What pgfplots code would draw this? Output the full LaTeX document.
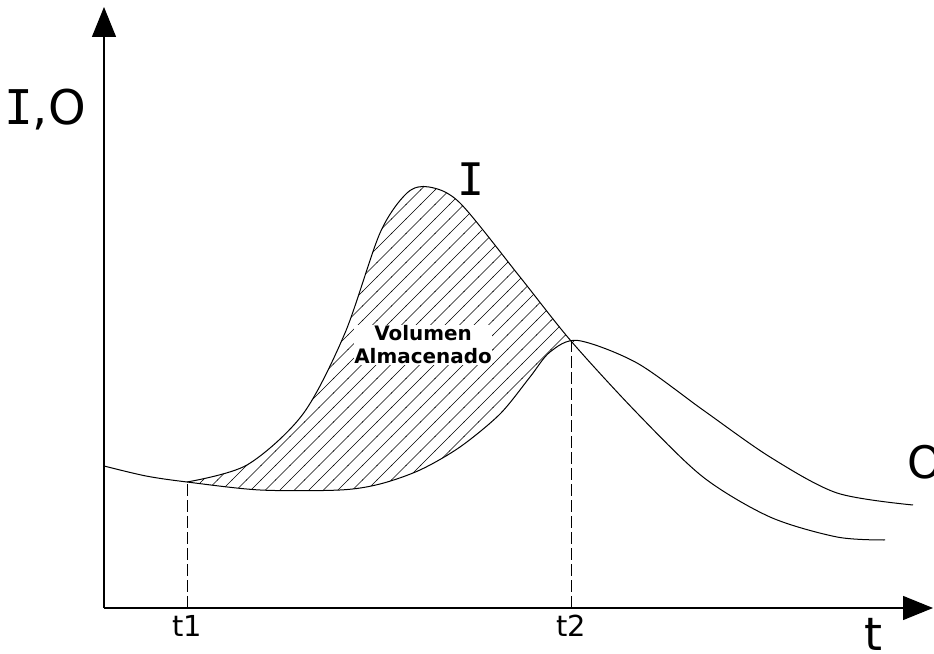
\documentclass[border=0pt]{standalone}
\usepackage{fontspec}
\setmainfont{DejaVu Sans}
\newfontfamily\slabI{DejaVu Sans Mono}
\usepackage{pgfplots}
\pgfplotsset{compat=1.18}
\usepgfplotslibrary{fillbetween}
\usetikzlibrary{arrows.meta,patterns}

% wide 45-degree hatching for the storage area
\pgfdeclarepatternformonly{widehatch}{\pgfpoint{-1bp}{-1bp}}{\pgfpoint{15.5bp}{15.5bp}}{\pgfpoint{14.5bp}{14.5bp}}{%
  \pgfsetlinewidth{0.7bp}%
  \pgfpathmoveto{\pgfpoint{-0.5bp}{-0.5bp}}%
  \pgfpathlineto{\pgfpoint{15bp}{15bp}}%
  \pgfusepath{stroke}}

% outflow hydrograph O (includes the common base flow before t1)
\pgfplotstableread{
x y
0 142
42 132
83 126
156 118
236 118
276 124
316 138
356 161
396 194
426 231
446 256
474 267.5
533 245
599 198
666 151
733 115
809 103
}\outflow

% inflow hydrograph I
\pgfplotstableread{
x y
83 126
143 143
199 194
241 275
276 375
303 415
325 421
356 405
416 331
467 267
533 195
599 131
666 91
733 71
781 68
}\inflow

\begin{document}
\begin{tikzpicture}
\begin{axis}[
  at={(104bp,46bp)}, anchor=south west,
  scale only axis, width=829bp, height=601bp,
  xmin=0, xmax=829, ymin=0, ymax=601,
  axis lines=left,
  axis line style={line width=1.3bp, -{Triangle[length=30bp,width=24bp]}},
  xtick={83,467}, xticklabels={t1,t2},
  ytick=\empty,
  major tick length=0pt,
  xticklabel style={font=\fontsize{29}{34}\selectfont, yshift=-4bp},
  clip=false,
]
  % stored volume between t1 and t2
  \addplot[name path=Iseg, draw=none, smooth, restrict x to domain=83:467] table {\inflow};
  \addplot[name path=Oseg, draw=none, smooth, restrict x to domain=83:475] table {\outflow};
  \addplot[draw=none, pattern=widehatch] fill between[of=Iseg and Oseg];
  % hydrographs
  \addplot[black, line width=1bp, smooth] table {\outflow};
  \addplot[black, line width=1bp, smooth] table {\inflow};
  % time markers
  \addplot[black, line width=0.9bp, dash pattern=on 12bp off 4bp] coordinates {(83,0) (83,126)};
  \addplot[black, line width=0.9bp, dash pattern=on 12bp off 4bp] coordinates {(467,0) (467,267)};
  \node[fill=white, inner sep=0.5bp, align=center, font=\bfseries\fontsize{20}{23}\selectfont]
    at (axis cs:319,263) {Volumen\\Almacenado};
  \node[font=\fontsize{48}{50}\selectfont] at (axis cs:-59,498) {{\slabI I},O};
  \node[font=\fontsize{45}{50}\selectfont] at (axis cs:367,429) {\slabI I};
  \node[font=\fontsize{45}{50}\selectfont, anchor=west, inner sep=0pt] at (axis cs:803,146) {O};
  \node[font=\fontsize{46}{50}\selectfont] at (axis cs:769,-26) {t};
\end{axis}
\pgfresetboundingbox
\useasboundingbox (0,0) rectangle (934bp,654bp);
\end{tikzpicture}
\end{document}
